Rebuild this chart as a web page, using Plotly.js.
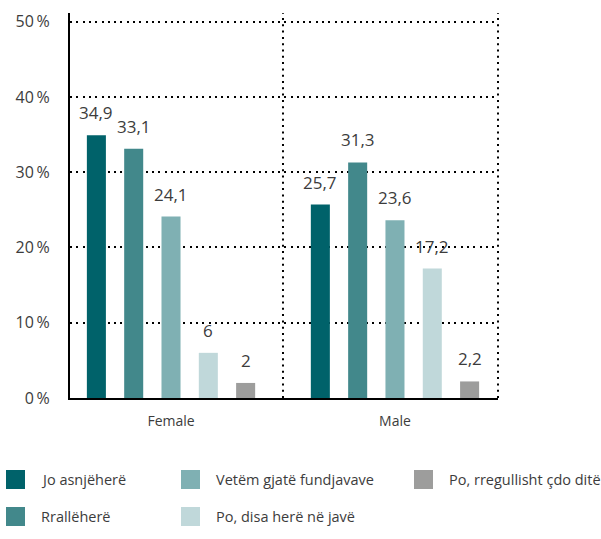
<!DOCTYPE html>
<html>
<head>
<meta charset="utf-8">
<script src="https://cdn.plot.ly/plotly-3.0.1.min.js"></script>
<style>html,body{margin:0;padding:0;background:#fff;}#chart{width:601px;height:539px;}</style>
</head>
<body>
<div id="chart"></div>
<script>
// ---- data ----
const categories = ['Female', 'Male'];
const seriesNames = ['Jo asnjëherë', 'Rrallëherë', 'Vetëm gjatë fundjavave', 'Po, disa herë në javë', 'Po, rregullisht çdo ditë'];
const joAsnjehere = [34.9, 25.7];
const rrallehere = [33.1, 31.3];
const vetemFundjavave = [24.1, 23.6];
const poDisaHere = [6, 17.2];
const poRregullisht = [2, 2.2];
const yTickValues = [0, 10, 20, 30, 40, 50];
const yTickLabels = ['0\u2009%', '10\u2009%', '20\u2009%', '30\u2009%', '40\u2009%', '50\u2009%'];

// ---- styles ----
const seriesColors = ['#00626a', '#42888b', '#7fb0b3', '#c0d8da', '#9d9d9c'];
const textColor = '#3c3c3c';
const fontFamily = '"Open Sans", "Noto Sans", sans-serif';
const bargap = 0.167;
const bargroupgap = 0.49;
const dotDash = '2px,4.3px';

const W = 601, H = 539;
const M = {l: 70, r: 103, t: 13, b: 141};
const plotW = W - M.l - M.r, plotH = H - M.t - M.b;
const px2x = p => (p - M.l) / plotW;
const px2y = p => (H - M.b - p) / plotH;

const seriesValues = [joAsnjehere, rrallehere, vetemFundjavave, poDisaHere, poRregullisht];

const traces = seriesValues.map((vals, i) => ({
  type: 'bar',
  name: seriesNames[i],
  x: categories,
  y: vals,
  marker: {color: seriesColors[i]},
  showlegend: false,
  hoverinfo: 'x+y+name'
}));

const fmt = v => String(v).replace('.', ',');
const slot = (1 - bargap) / seriesValues.length;
const annotations = [];
seriesValues.forEach((vals, i) => {
  vals.forEach((v, j) => {
    annotations.push({
      xref: 'x', yref: 'y',
      x: j + (i - (seriesValues.length - 1) / 2) * slot,
      y: v,
      text: fmt(v),
      showarrow: false,
      xanchor: 'center', yanchor: 'bottom',
      yshift: 9,
      font: {family: fontFamily, size: 17, color: textColor}
    });
  });
});

// custom legend (column-major, 2 rows)
const legendCols = [6, 181, 414];
const legendRows = [470, 507];
const sw = 19;
const shapes = [
  {type: 'line', xref: 'x', yref: 'paper', x0: 0.5, x1: 0.5, y0: 0, y1: 1,
   line: {color: '#000', width: 2, dash: dotDash}},
  {type: 'line', xref: 'paper', yref: 'paper', x0: 1, x1: 1, y0: 0, y1: 1,
   line: {color: '#000', width: 2, dash: dotDash}}
];
seriesNames.forEach((name, k) => {
  const cx = legendCols[Math.floor(k / 2)];
  const ry = legendRows[k % 2];
  shapes.push({
    type: 'rect', xref: 'paper', yref: 'paper',
    x0: px2x(cx), x1: px2x(cx + sw), y0: px2y(ry), y1: px2y(ry + sw),
    fillcolor: seriesColors[k], line: {width: 0}
  });
  annotations.push({
    xref: 'paper', yref: 'paper',
    x: px2x(cx + 33), y: px2y(ry + sw / 2),
    text: name, showarrow: false,
    xanchor: 'left', yanchor: 'middle',
    font: {family: fontFamily, size: 14.5, color: textColor}
  });
});

const layout = {
  width: W, height: H,
  margin: M,
  paper_bgcolor: '#fff', plot_bgcolor: '#fff',
  separators: ', ',
  font: {family: fontFamily, color: textColor},
  barmode: 'group',
  bargap: bargap,
  bargroupgap: bargroupgap,
  showlegend: false,
  xaxis: {
    type: 'category',
    range: [-0.451, 1.46],
    showgrid: false, zeroline: false,
    showline: true, linecolor: '#000', linewidth: 2,
    ticks: 'outside', ticklen: 9, tickcolor: 'rgba(0,0,0,0)',
    tickfont: {family: fontFamily, size: 14, color: textColor},
    fixedrange: true
  },
  yaxis: {
    range: [0, 51.15],
    tickmode: 'array',
    tickvals: yTickValues,
    ticktext: yTickLabels,
    showgrid: true, gridcolor: '#000', gridwidth: 2, griddash: dotDash,
    zeroline: false,
    showline: true, linecolor: '#000', linewidth: 2,
    ticks: 'outside', ticklen: 15, tickcolor: 'rgba(0,0,0,0)',
    tickfont: {family: fontFamily, size: 16, color: textColor},
    fixedrange: true
  },
  annotations: annotations,
  shapes: shapes
};

Plotly.newPlot('chart', traces, layout, {displayModeBar: false, staticPlot: true});
</script>
</body>
</html>
